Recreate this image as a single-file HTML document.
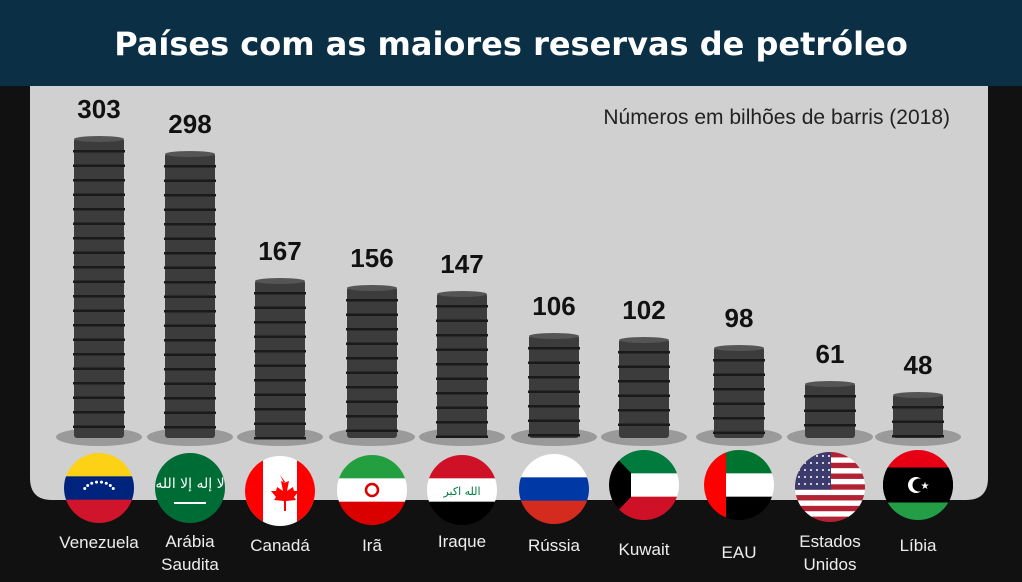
<!DOCTYPE html>
<html><head><meta charset="utf-8"><style>
body{margin:0;width:1022px;height:577px;background:#111;overflow:hidden;font-family:"Liberation Sans",sans-serif}
</style></head><body>
<svg id="s" width="1022" height="577" xmlns="http://www.w3.org/2000/svg">
<rect width="1022" height="577" fill="#111"/>
<path d="M30 80 H988 V478 Q988 500 966 500 H52 Q30 500 30 478 Z" fill="#d0d0d0"/>
<rect width="1022" height="86" fill="#0b2f45"/>
<text x="511" y="55" text-anchor="middle" fill="#fff" font-size="32" font-weight="bold" font-family="DejaVu Sans, Liberation Sans, sans-serif">Países com as maiores reservas de petróleo</text>
<text x="950" y="124" text-anchor="end" fill="#222" font-size="21">Números em bilhões de barris (2018)</text>
<g id="b"></g>
<g id="f"></g>
</svg>
<script>
const cx=[99,190,280,372,462,554,644,739,830,918],tops=[138,153,280,287,293,335,339,347,383,394],vals=[303,298,167,156,147,106,102,98,61,48];
let h='';
cx.forEach((x,i)=>{
 h+=`<ellipse cx="${x}" cy="437" rx="43" ry="9" fill="#9a9a9a"/>`;
 const t=tops[i],bt=438;
 h+=`<rect x="${x-25}" y="${t}" width="50" height="${bt-t}" rx="3" fill="#3c3c3c"/>`;
 for(let y=t+12;y<bt;y+=14.5){h+=`<rect x="${x-26}" y="${y}" width="52" height="2.5" fill="#1a1a1a"/>`;}
 h+=`<ellipse cx="${x}" cy="${t+1}" rx="25" ry="3" fill="#555"/>`;
 h+=`<text x="${x}" y="${t-20}" text-anchor="middle" font-size="26" font-weight="bold" fill="#111">${vals[i]}</text>`;
});
document.getElementById('b').innerHTML=h;
const fy=[488,488,491,490,490,489,485,485,487,485];
const names=[["Venezuela"],["Arábia","Saudita"],["Canadá"],["Irã"],["Iraque"],["Rússia"],["Kuwait"],["EAU"],["Estados","Unidos"],["Líbia"]];
const ly=[548,547,551,551,547,551,555,558,547,551];
let g='<defs>';
cx.forEach((x,i)=>{g+=`<clipPath id="c${i}"><circle cx="${x}" cy="${fy[i]}" r="35"/></clipPath>`});
g+='</defs>';
function stripesH(x,y,cols){let s='',n=cols.length,hh=70/n;cols.forEach((c,k)=>s+=`<rect x="${x-35}" y="${y-35+k*hh}" width="70" height="${hh+0.5}" fill="${c}"/>`);return s}
cx.forEach((x,i)=>{
 const y=fy[i];let s='';
 switch(i){
 case 0:s=stripesH(x,y,['#fcd116','#00247d','#cf142b']);
  for(let k=0;k<8;k++){const a=Math.PI+Math.PI*(0.15+k*0.1);s+=`<circle cx="${x+16*Math.cos(a)}" cy="${y+6+12*Math.sin(a)}" r="1.5" fill="#fff"/>`}break;
 case 1:s=`<rect x="${x-35}" y="${y-35}" width="70" height="70" fill="#006c35"/><text x="${x}" y="${y}" text-anchor="middle" fill="#fff" font-size="14" font-family="DejaVu Sans,sans-serif">لا إله إلا الله</text><rect x="${x-16}" y="${y+14}" width="32" height="2" fill="#fff"/>`;break;
 case 2:s=`<rect x="${x-35}" y="${y-35}" width="70" height="70" fill="#fff"/><rect x="${x-35}" y="${y-35}" width="18" height="70" fill="#f00"/><rect x="${x+17}" y="${y-35}" width="18" height="70" fill="#f00"/><path d="M${x} ${y-16} l4 8 5-2-2 10 6-4 1 4 5 0-5 6 2 3-10 1 0 10h-2v-10l-10-1 2-3-5-6 5 0 1-4 6 4-2-10 5 2z" fill="#f00"/>`;break;
 case 3:s=stripesH(x,y,['#239f40','#fff','#da0000'])+`<circle cx="${x}" cy="${y}" r="6" fill="none" stroke="#da0000" stroke-width="2.5"/>`;break;
 case 4:s=stripesH(x,y,['#ce1126','#fff','#000'])+`<text x="${x}" y="${y+5}" text-anchor="middle" fill="#007a3d" font-size="11" font-family="DejaVu Sans,sans-serif">الله اكبر</text>`;break;
 case 5:s=stripesH(x,y,['#fff','#0039a6','#d52b1e']);break;
 case 6:s=stripesH(x,y,['#007a3d','#fff','#ce1126'])+`<path d="M${x-35} ${y-35} l22 23 v24 l-22 23z" fill="#000"/>`;break;
 case 7:s=stripesH(x,y,['#00732f','#fff','#000'])+`<rect x="${x-35}" y="${y-35}" width="22" height="70" fill="#f00"/>`;break;
 case 8:s='';for(let k=0;k<13;k++)s+=`<rect x="${x-35}" y="${y-35+k*70/13}" width="70" height="${70/13+0.3}" fill="${k%2?'#fff':'#b22234'}"/>`;s+=`<rect x="${x-35}" y="${y-35}" width="36" height="${70*7/13}" fill="#3c3b6e"/>`;for(let r=0;r<5;r++)for(let c=0;c<6;c++)s+=`<circle cx="${x-31+c*6}" cy="${y-31+r*7}" r="1" fill="#fff"/>`;break;
 case 9:s=stripesH(x,y,['#e70013','#000','#000','#239e46'])+`<rect x="${x-35}" y="${y-17.5}" width="70" height="35" fill="#000"/><circle cx="${x-2}" cy="${y}" r="8" fill="#fff"/><circle cx="${x+1}" cy="${y}" r="6.5" fill="#000"/><text x="${x+7}" y="${y+4}" text-anchor="middle" fill="#fff" font-size="10">★</text>`;break;
 }
 g+=`<g clip-path="url(#c${i})">${s}</g>`;
 names[i].forEach((n,k)=>g+=`<text x="${x}" y="${ly[i]+k*23}" text-anchor="middle" fill="#eee" font-size="17">${n}</text>`);
});
document.getElementById('f').innerHTML=g;
</script>
</body></html>
